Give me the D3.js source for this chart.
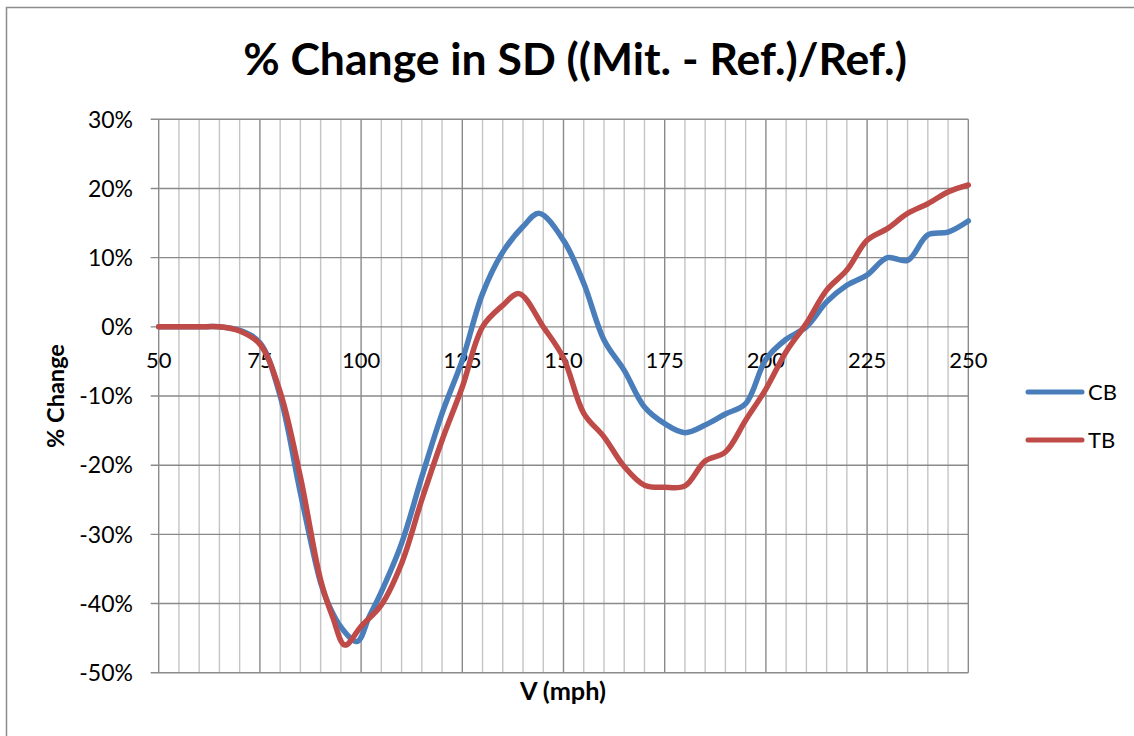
<!DOCTYPE html>
<html>
<head>
<meta charset="utf-8">
<script src="https://cdn.jsdelivr.net/npm/d3@7"></script>
<style>
  html, body { margin: 0; padding: 0; background: #fff; }
  svg { display: block; }
  text { font-family: Lato, "Open Sans", sans-serif; fill: #000; }
</style>
</head>
<body>
<svg id="chart" width="1134" height="736"></svg>
<script>
// Speed samples (mph) and % change in SD for each configuration
const speedCB = [50, 55, 60, 65, 70, 75, 80, 85, 90, 92, 95, 99, 102, 105, 110, 115, 120, 125, 130, 135, 140, 144, 150, 155, 160, 165, 170, 175, 180, 185, 190, 195, 200, 205, 210, 215, 220, 225, 230, 235, 240, 245, 250];
const valueCB = [0, 0, 0, 0, -0.5, -2.3, -10, -24, -37, -40.2, -43.4, -45.5, -41.9, -38.3, -31.3, -21.7, -12.5, -4.8, 4.8, 10.8, 14.5, 16.4, 12.5, 6.3, -1.9, -6.3, -11.6, -14, -15.3, -14.2, -12.6, -11.1, -4.7, -1.8, 0, 3.6, 6, 7.5, 10, 9.6, 13.3, 13.7, 15.3];

const speedTB = [50, 55, 60, 65, 70, 75, 80, 85, 90, 93, 96, 100, 105, 110, 115, 120, 125, 130, 135, 139, 145, 150, 155, 160, 165, 170, 175, 180, 185, 190, 195, 200, 205, 210, 215, 220, 225, 230, 235, 240, 245, 250];
const valueTB = [0, 0, 0, 0, -0.6, -2.5, -9.4, -21.7, -36.6, -42, -46, -43.3, -40.2, -34.2, -25, -16.4, -8.7, 0, 3.1, 4.8, 0, -4.5, -12.5, -15.9, -20.2, -22.9, -23.2, -23, -19.4, -18.1, -13.5, -9, -3.6, 0.5, 5.3, 8.2, 12.5, 14.2, 16.4, 17.8, 19.5, 20.5];

const seriesNames = ["CB", "TB"];
const seriesColors = ["#4a7ebb", "#be4b48"];

const xTicks = [50, 75, 100, 125, 150, 175, 200, 225, 250];
const xMinorTicks = d3.range(50, 251, 5);
const yTicks = [30, 20, 10, 0, -10, -20, -30, -40, -50];

const titleText = "% Change in SD ((Mit. - Ref.)/Ref.)";
const xTitle = "V (mph)";
const yTitle = "% Change";

const svg = d3.select("#chart");

// chart frame
svg.append("rect")
  .attr("x", 6.5).attr("y", 7.5)
  .attr("width", 1200).attr("height", 800)
  .attr("fill", "#fff").attr("stroke", "#8c8c8c").attr("stroke-width", 1.5);

const plot = { left: 158.7, right: 968.3, top: 119.3, bottom: 672.7 };

const x = d3.scaleLinear().domain([50, 250]).range([plot.left, plot.right]);
const y = d3.scaleLinear().domain([-50, 30]).range([plot.bottom, plot.top]);

const grid = svg.append("g");

// minor vertical gridlines every 5 mph
grid.selectAll("line.minor")
  .data(xMinorTicks.filter(v => v % 25 !== 0))
  .join("line")
  .attr("x1", d => x(d)).attr("x2", d => x(d))
  .attr("y1", plot.top).attr("y2", plot.bottom)
  .attr("stroke", "#c4c4c4").attr("stroke-width", 1.4);

// major vertical gridlines every 25 mph
grid.selectAll("line.major")
  .data(xTicks)
  .join("line")
  .attr("x1", d => x(d)).attr("x2", d => x(d))
  .attr("y1", plot.top).attr("y2", plot.bottom)
  .attr("stroke", "#8a8a8a").attr("stroke-width", 1.4);

// horizontal gridlines plus tick marks to the left of the axis
grid.selectAll("line.h")
  .data(yTicks)
  .join("line")
  .attr("x1", plot.left - 8).attr("x2", plot.right)
  .attr("y1", d => y(d)).attr("y2", d => y(d))
  .attr("stroke", "#8a8a8a").attr("stroke-width", 1.4);

// y tick labels (plain hyphen for negatives)
const pct = d3.format(".0%");
svg.append("g").selectAll("text")
  .data(yTicks)
  .join("text")
  .attr("x", 133).attr("y", d => y(d))
  .attr("dy", "0.36em")
  .attr("text-anchor", "end")
  .attr("font-size", 23)
  .text(d => pct(d / 100).replace("\u2212", "-"));

// x tick labels sit just below the 0% line
svg.append("g").selectAll("text")
  .data(xTicks)
  .join("text")
  .attr("x", d => x(d)).attr("y", y(0) + 41)
  .attr("text-anchor", "middle")
  .attr("font-size", 22)
  .text(d => d);

// data lines
const line = d3.line()
  .x(d => x(d[0]))
  .y(d => y(d[1]))
  .curve(d3.curveCatmullRom.alpha(0.5));

const seriesData = [
  d3.zip(speedCB, valueCB),
  d3.zip(speedTB, valueTB)
];

svg.append("g").selectAll("path")
  .data(seriesData)
  .join("path")
  .attr("d", d => line(d))
  .attr("fill", "none")
  .attr("stroke", (d, i) => seriesColors[i])
  .attr("stroke-width", 5.5)
  .attr("stroke-linejoin", "round")
  .attr("stroke-linecap", "round");

// fit a text element to a given width
function fitWidth(sel, base, width) {
  const w = sel.node().getComputedTextLength();
  sel.attr("font-size", base * width / w);
}

// title
const title = svg.append("text")
  .attr("x", 575).attr("y", 75)
  .attr("text-anchor", "middle")
  .attr("font-weight", 700)
  .attr("font-size", 38)
  .text(titleText);
fitWidth(title, 38, 664);

// axis titles
const xt = svg.append("text")
  .attr("x", 563).attr("y", 700)
  .attr("text-anchor", "middle")
  .attr("font-weight", 700)
  .attr("font-size", 20)
  .text(xTitle);
fitWidth(xt, 20, 86);

const yt = svg.append("text")
  .attr("transform", "translate(64,396) rotate(-90)")
  .attr("text-anchor", "middle")
  .attr("font-weight", 700)
  .attr("font-size", 20)
  .text(yTitle);
fitWidth(yt, 20, 104);

// legend
const legend = svg.append("g").selectAll("g")
  .data(seriesNames)
  .join("g")
  .attr("transform", (d, i) => `translate(1028, ${392 + i * 48})`);
legend.append("line")
  .attr("x1", 0).attr("x2", 54)
  .attr("stroke", (d, i) => seriesColors[i])
  .attr("stroke-width", 5)
  .attr("stroke-linecap", "round");
legend.append("text")
  .attr("x", 60).attr("dy", "0.36em")
  .attr("font-size", 22)
  .text(d => d);
</script>
</body>
</html>
